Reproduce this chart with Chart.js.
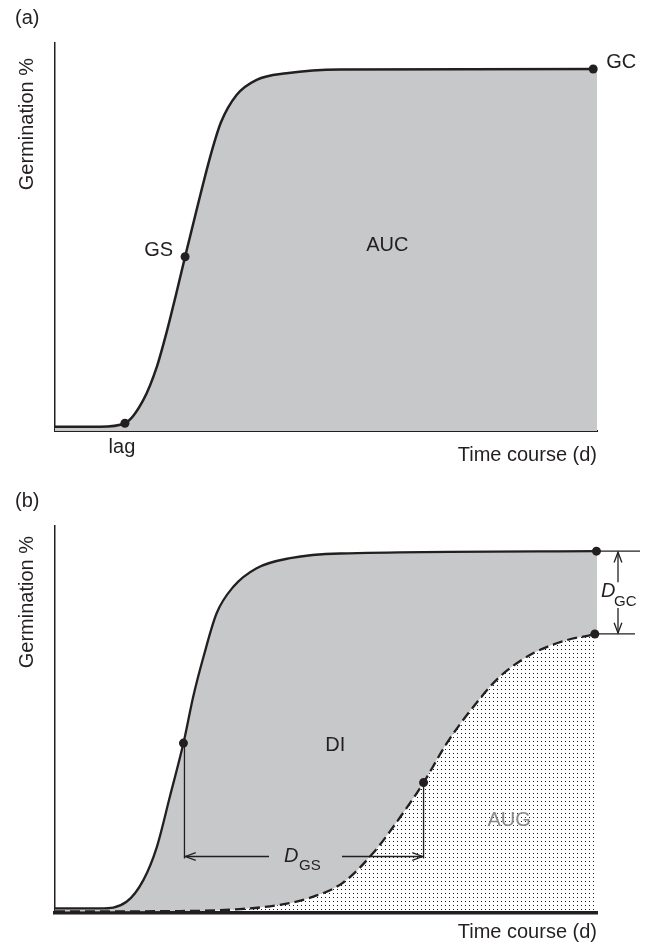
<!DOCTYPE html>
<html>
<head>
<meta charset="utf-8">
<script src="https://cdn.jsdelivr.net/npm/chart.js@4.4.1/dist/chart.umd.min.js"></script>
<style>
  html, body { margin: 0; padding: 0; background: #fff; }
  canvas { display: block; }
</style>
</head>
<body>
<canvas id="chartA" width="649" height="472"></canvas>
<canvas id="chartB" width="649" height="473"></canvas>
<script>
// Time course runs 0-100 across the axis, germination 0-100 up the axis

// (a) germination curve
const timeA = [0, 8.3, 12.9, 16.3, 18.8, 20.6, 22.3, 24.0, 25.6, 27.2, 28.9, 30.6, 33.5, 37.2, 42.7, 52.6, 100];
const germA = [1.1, 1.1, 2.0, 8.0, 16.6, 25.5, 35.0, 44.9, 54.0, 63.0, 72.0, 79.5, 86.6, 90.5, 92.2, 93.2, 93.3];
// lag, GS, GC
const markTimeA = [12.9, 24.0, 99.3];
const markGermA = [2.0, 44.9, 93.3];

// (b) control curve (solid)
const timeB = [0, 8.3, 13.2, 16.3, 18.8, 21.2, 23.7, 25.5, 27.4, 29.8, 32.9, 37.2, 43.4, 52.6, 100];
const germB = [1.2, 1.2, 2.9, 8.5, 17.1, 30.1, 43.9, 55.9, 66.2, 77.4, 84.3, 89.1, 91.7, 92.9, 93.5];
// (b) delayed curve (dashed)
const timeDelay = [0, 23.1, 34.1, 41.5, 47.0, 53.1, 58.7, 63.7, 68.0, 72.3, 77.2, 82.1, 88.2, 94.4, 99.6, 100];
const germDelay = [0.4, 0.5, 1.0, 2.1, 3.9, 7.8, 15.5, 24.8, 33.7, 43.9, 53.3, 61.1, 67.1, 70.5, 72.1, 72.3];
// GS of each curve, then GC of each curve
const markTimeB = [23.7, 68.0, 99.9, 99.6];
const markGermB = [43.9, 33.7, 93.5, 72.1];

const FONT = '"Liberation Sans", Arial, Helvetica, sans-serif';
const INK = '#231f20';
const SHADE = '#c7c8ca';

const toPoints = (xs, ys) => xs.map((x, i) => ({ x: x, y: ys[i] }));

function stipple() {
  const c = document.createElement('canvas');
  c.width = 4; c.height = 4;
  const g = c.getContext('2d');
  g.fillStyle = '#1a1a1a';
  g.fillRect(1, 1, 1, 1);
  return g.createPattern(c, 'repeat');
}

function text(ctx, str, x, y, opts) {
  opts = opts || {};
  ctx.save();
  ctx.font = (opts.italic ? 'italic ' : '') + (opts.size || 20) + 'px ' + FONT;
  ctx.fillStyle = opts.color || INK;
  ctx.textAlign = opts.align || 'center';
  ctx.textBaseline = opts.baseline || 'middle';
  if (opts.rotate) {
    ctx.translate(x, y);
    ctx.rotate(opts.rotate);
    ctx.fillText(str, 0, 0);
  } else {
    ctx.fillText(str, x, y);
  }
  ctx.restore();
}

function line(ctx, x1, y1, x2, y2) {
  ctx.beginPath();
  ctx.moveTo(x1, y1);
  ctx.lineTo(x2, y2);
  ctx.stroke();
}

// open arrow head with its tip at (x, y), pointing along angle dir
function arrowHead(ctx, x, y, dir) {
  const len = 11, spread = 0.36;
  ctx.beginPath();
  ctx.moveTo(x - len * Math.cos(dir - spread), y - len * Math.sin(dir - spread));
  ctx.lineTo(x, y);
  ctx.lineTo(x - len * Math.cos(dir + spread), y - len * Math.sin(dir + spread));
  ctx.stroke();
}

function axisTitles(ctx, area, tag, titleGap, timeGap) {
  text(ctx, tag, 15, area.top - 25, { align: 'left' });
  text(ctx, 'Germination %', 33, area.top + titleGap, { align: 'right', baseline: 'alphabetic', rotate: -Math.PI / 2 });
  text(ctx, 'Time course (d)', area.right, area.bottom + timeGap, { align: 'right' });
}

function baseOptions(pad, axisWidth) {
  return {
    responsive: false,
    animation: false,
    layout: { padding: pad },
    plugins: {
      legend: { display: false },
      tooltip: { enabled: false },
      filler: { drawTime: 'beforeDatasetsDraw' }
    },
    scales: {
      x: {
        type: 'linear', min: 0, max: 100, z: 1,
        grid: { display: false, drawTicks: false },
        ticks: { display: false },
        border: { display: true, color: INK, width: axisWidth }
      },
      y: {
        type: 'linear', min: 0, max: 100, z: 1,
        grid: { display: false, drawTicks: false },
        ticks: { display: false },
        border: { display: true, color: INK, width: 1.5 }
      }
    }
  };
}

// ---- (a) ----
const notesA = {
  id: 'notesA',
  afterDatasetsDraw(chart) {
    const ctx = chart.ctx, area = chart.chartArea;
    const sx = chart.scales.x, sy = chart.scales.y;
    axisTitles(ctx, area, '(a)', 15, 24);
    const px = i => sx.getPixelForValue(markTimeA[i]);
    const py = i => sy.getPixelForValue(markGermA[i]);
    text(ctx, 'lag', px(0) - 3, area.bottom + 16);
    text(ctx, 'GS', px(1) - 12, py(1) - 6, { align: 'right' });
    text(ctx, 'GC', px(2) + 13, py(2) - 7, { align: 'left' });
    text(ctx, 'AUC', sx.getPixelForValue(61.3), sy.getPixelForValue(47.9));
  }
};

const optsA = baseOptions({ left: 55, right: 52, top: 43, bottom: 41 }, 2);
new Chart(document.getElementById('chartA'), {
  type: 'line',
  data: {
    datasets: [
      {
        data: toPoints(markTimeA, markGermA),
        showLine: false,
        pointRadius: 4.5,
        pointBackgroundColor: INK,
        pointBorderWidth: 0,
        clip: false,
        order: -1
      },
      {
        data: toPoints(timeA, germA),
        borderColor: INK,
        borderWidth: 2.5,
        pointRadius: 0,
        cubicInterpolationMode: 'monotone',
        fill: 'origin',
        backgroundColor: SHADE
      }
    ]
  },
  options: optsA,
  plugins: [notesA]
});

// ---- (b) ----
const notesB = {
  id: 'notesB',
  afterDatasetsDraw(chart) {
    const ctx = chart.ctx, area = chart.chartArea;
    const sx = chart.scales.x, sy = chart.scales.y;
    axisTitles(ctx, area, '(b)', 10, 19);
    const px = i => sx.getPixelForValue(markTimeB[i]);
    const py = i => sy.getPixelForValue(markGermB[i]);

    text(ctx, 'DI', sx.getPixelForValue(51.7), sy.getPixelForValue(43.4));
    text(ctx, 'AUG', sx.getPixelForValue(83.8), sy.getPixelForValue(24), { color: '#8a8a8a' });

    ctx.save();
    ctx.strokeStyle = INK;
    ctx.lineWidth = 1.3;

    // delay in germination speed, between the two GS points
    const level = sy.getPixelForValue(14.6);
    const x1 = px(0) + 1, x2 = px(1);
    line(ctx, x1, py(0), x1, level + 2);
    line(ctx, x2, py(1), x2, level + 2);
    const mid = (x1 + x2) / 2 + 1;
    line(ctx, x1, level, mid - 36, level);
    line(ctx, mid + 37, level, x2, level);
    arrowHead(ctx, x1 + 1, level, Math.PI);
    arrowHead(ctx, x2 - 1, level, 0);
    text(ctx, 'D', mid - 21, level, { italic: true, align: 'left' });
    text(ctx, 'GS', mid - 6, level + 9, { size: 15, align: 'left' });

    // drop in germination capacity, between the two GC points
    const top = py(2), bottom = py(3);
    const right = sx.getPixelForValue(100);
    line(ctx, right, top, right + 43, top);
    line(ctx, right, bottom, right + 38, bottom);
    const vx = right + 21;
    line(ctx, vx, top + 1, vx, top + 31);
    line(ctx, vx, bottom - 26, vx, bottom - 1);
    arrowHead(ctx, vx, top + 1, -Math.PI / 2);
    arrowHead(ctx, vx, bottom - 1, Math.PI / 2);
    text(ctx, 'D', right + 4, (top + bottom) / 2 - 1, { italic: true, align: 'left' });
    text(ctx, 'GC', right + 17, (top + bottom) / 2 + 9, { size: 15, align: 'left' });
    ctx.restore();
  }
};

const optsB = baseOptions({ left: 55, right: 52, top: 54, bottom: 32 }, 3.5);
new Chart(document.getElementById('chartB'), {
  type: 'line',
  data: {
    datasets: [
      {
        data: toPoints(markTimeB, markGermB),
        showLine: false,
        pointRadius: 4.5,
        pointBackgroundColor: INK,
        pointBorderWidth: 0,
        clip: false,
        order: -1
      },
      {
        data: toPoints(timeB, germB),
        borderColor: INK,
        borderWidth: 2.3,
        pointRadius: 0,
        cubicInterpolationMode: 'monotone',
        fill: 2,
        backgroundColor: SHADE
      },
      {
        data: toPoints(timeDelay, germDelay),
        borderColor: INK,
        borderWidth: 2.3,
        borderDash: [10, 5],
        pointRadius: 0,
        cubicInterpolationMode: 'monotone',
        fill: 'origin',
        backgroundColor: stipple()
      }
    ]
  },
  options: optsB,
  plugins: [notesB]
});
</script>
</body>
</html>
